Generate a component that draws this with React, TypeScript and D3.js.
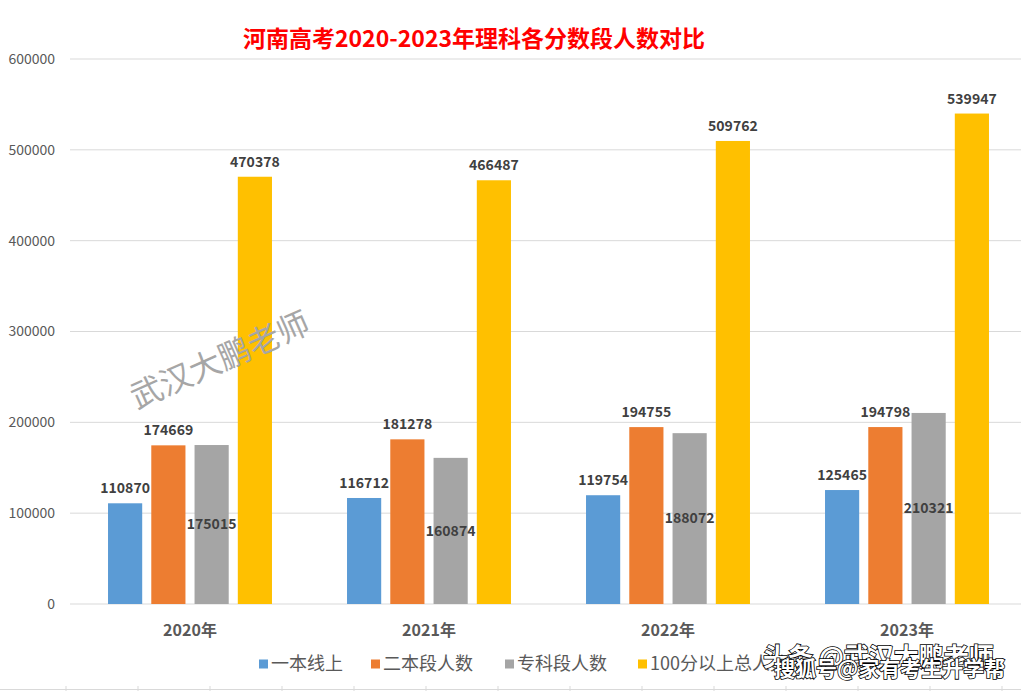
import { useEffect } from "react";
import * as d3 from "d3";

const years = ["2020年", "2021年", "2022年", "2023年"];
const seriesNames = ["一本线上", "二本段人数", "专科段人数", "100分以上总人数"];
const yiben = [110870, 116712, 119754, 125465];
const erben = [174669, 181278, 194755, 194798];
const zhuanke = [175015, 160874, 188072, 210321];
const total = [470378, 466487, 509762, 539947];
const yTicks = [0, 100000, 200000, 300000, 400000, 500000, 600000];

const colors = ["#5B9BD5", "#ED7D31", "#A5A5A5", "#FFC000"];
const font = "'Noto Sans CJK SC', 'Noto Sans', sans-serif";

const W = 1021;
const H = 691;

export default function App() {
  useEffect(() => {
    document.body.style.margin = "0";
  }, []);

  const values = [yiben, erben, zhuanke, total];

  const x0 = d3
    .scaleBand<string>()
    .domain(years)
    .range([70.5, 1026.5])
    .paddingInner(0.314)
    .paddingOuter(0.157);

  const x1 = d3
    .scaleBand<number>()
    .domain(d3.range(seriesNames.length))
    .range([0, x0.bandwidth()])
    .paddingInner(0.21)
    .paddingOuter(0);

  const y = d3.scaleLinear().domain([0, 600000]).range([604, 59]);

  // legend positions
  const legendX = [259, 371, 505, 638];

  return (
    <svg width={W} height={H} style={{ display: "block", fontFamily: font }}>
      <rect width={W} height={H} fill="#fff" />

      {/* title */}
      <text
        x={474}
        y={47}
        textAnchor="middle"
        fontSize={23}
        fontWeight="bold"
        fill="#FF0000"
      >
        河南高考2020-2023年理科各分数段人数对比
      </text>

      {/* grid + y axis */}
      {yTicks.map((t) => (
        <g key={t}>
          <line
            x1={70}
            x2={W}
            y1={y(t)}
            y2={y(t)}
            stroke="#D9D9D9"
            strokeWidth={1}
          />
          <text
            x={55}
            y={y(t)}
            dy="0.35em"
            textAnchor="end"
            fontSize={14}
            fill="#595959"
          >
            {t}
          </text>
        </g>
      ))}

      {/* bars */}
      {years.map((yr, i) => (
        <g key={yr} transform={`translate(${x0(yr)},0)`}>
          {values.map((vals, s) => {
            const bx = x1(s)!;
            const v = vals[i];
            const top = y(v);
            const labelY = s === 2 ? (top + y(0)) / 2 : top - 10;
            return (
              <g key={s}>
                <rect
                  x={bx}
                  y={top}
                  width={x1.bandwidth()}
                  height={y(0) - top}
                  fill={colors[s]}
                />
                <text
                  x={bx + x1.bandwidth() / 2}
                  y={labelY}
                  dy={s === 2 ? "0.35em" : 0}
                  textAnchor="middle"
                  fontSize={14}
                  fontWeight="bold"
                  fill="#404040"
                >
                  {v}
                </text>
              </g>
            );
          })}
          <text
            x={x0.bandwidth() / 2}
            y={636}
            textAnchor="middle"
            fontSize={16}
            fontWeight="bold"
            fill="#595959"
          >
            {yr}
          </text>
        </g>
      ))}

      {/* watermark in plot */}
      <text
        transform="translate(220,360) rotate(-24)"
        textAnchor="middle"
        dy="0.35em"
        fontSize={32}
        fill="#A6A6A6"
      >
        武汉大鹏老师
      </text>

      {/* legend */}
      {seriesNames.map((n, s) => (
        <g key={n} transform={`translate(${legendX[s]},664)`}>
          <rect x={0} y={-4.5} width={9} height={9} fill={colors[s]} />
          <text x={12} dy="0.35em" fontSize={18} fill="#595959">
            {n}
          </text>
        </g>
      ))}

      {/* bottom table border */}
      <line x1={0} x2={W} y1={689.5} y2={689.5} stroke="#D9D9D9" />
      {d3.range(66, W, 72).map((tx) => (
        <line key={tx} x1={tx} x2={tx} y1={686} y2={691} stroke="#D9D9D9" />
      ))}

      {/* corner watermarks */}
      <g
        fill="#fff"
        stroke="#000"
        strokeWidth={1.6}
        paintOrder="stroke"
        fontWeight="bold"
      >
        <text x={763} y={666} fontSize={25}>
          头条 @武汉大鹏老师
        </text>
        <text x={774} y={676} fontSize={21}>
          搜狐号@家有考生升学帮
        </text>
      </g>
    </svg>
  );
}
